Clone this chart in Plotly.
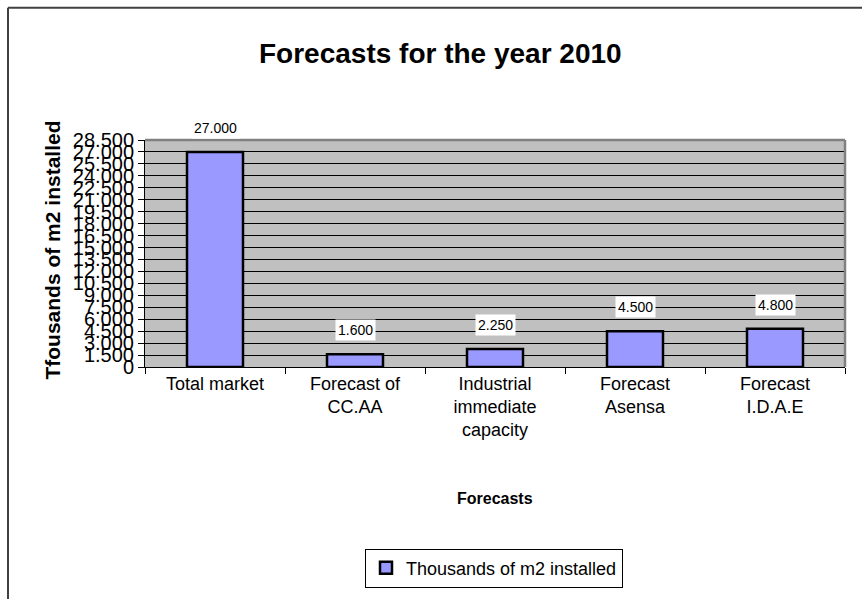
import plotly.graph_objects as go

categories = ["Total market", "Forecast of<br>CC.AA", "Industrial<br>immediate<br>capacity",
              "Forecast<br>Asensa", "Forecast<br>I.D.A.E"]
values = [27000, 1600, 2250, 4500, 4800]
series_name = "Thousands of m2 installed"
title_text = "Forecasts for the year 2010"
x_title = "Forecasts"
y_title = "Tfousands of m2 installed"

FONT = "Liberation Sans, Arial, sans-serif"
W, H = 862, 599
L, R, T, B = 145, 17, 140, 229
pw, ph = W - L - R, H - T - B

def px_x(p):
    return (p - L) / pw

def px_y(p):
    return (H - B - p) / ph

fig = go.Figure()
fig.add_trace(go.Bar(
    x=categories, y=values, name=series_name, width=0.4,
    marker=dict(color="#9999FF", line=dict(color="black", width=2.5)),
    showlegend=True,
))

annotations = []
for c, v in zip(categories, values):
    annotations.append(dict(
        x=c, y=v, xref="x", yref="y", text=f"{v:,}".replace(",", "."),
        showarrow=False, yshift=24, bgcolor="white",
        font=dict(family=FONT, size=14, color="black"), borderpad=2,
    ))

annotations += [
    dict(x=px_x(440), y=px_y(52), xref="paper", yref="paper", text=f"<b>{title_text}</b>",
         showarrow=False, font=dict(family=FONT, size=28, color="black"),
         xanchor="center", yanchor="middle"),
    dict(x=px_x(495), y=px_y(503), xref="paper", yref="paper", text=f"<b>{x_title}</b>",
         showarrow=False, font=dict(family=FONT, size=16, color="black"),
         xanchor="center", yanchor="middle"),
    dict(x=px_x(53), y=px_y(252), xref="paper", yref="paper", text=f"<b>{y_title}</b>",
         showarrow=False, textangle=-90, font=dict(family=FONT, size=21, color="black"),
         xanchor="center", yanchor="middle"),
]

shapes = [
    # outer chart frame (top and left visible)
    dict(type="line", xref="paper", yref="paper", x0=px_x(8), x1=px_x(870), y0=px_y(6), y1=px_y(6),
         line=dict(color="#404040", width=2)),
    dict(type="line", xref="paper", yref="paper", x0=px_x(8), x1=px_x(8), y0=px_y(6), y1=px_y(610),
         line=dict(color="#404040", width=2)),
    # plot area gray top and right borders
    dict(type="line", xref="paper", yref="paper", x0=0, x1=1, y0=1, y1=1,
         line=dict(color="#808080", width=2.5)),
    dict(type="line", xref="paper", yref="paper", x0=1, x1=1, y0=0, y1=1,
         line=dict(color="#808080", width=2.5)),
]

fig.update_layout(
    width=W, height=H, margin=dict(l=L, r=R, t=T, b=B),
    paper_bgcolor="white", plot_bgcolor="#C0C0C0",
    font=dict(family=FONT, color="black"),
    separators=",.",
    annotations=annotations, shapes=shapes,
    bargap=0.6,
    legend=dict(orientation="h", x=px_x(494), y=px_y(554), xanchor="center", yanchor="top",
                bordercolor="black", borderwidth=1, bgcolor="white",
                font=dict(family=FONT, size=18, color="black"),
                itemwidth=30),
)
fig.update_xaxes(
    type="category", tickson="boundaries", ticks="outside", ticklen=6, tickcolor="black",
    showline=True, linecolor="black", linewidth=1, showgrid=False,
    tickfont=dict(family=FONT, size=18, color="black"), fixedrange=True,
)
fig.update_yaxes(
    range=[0, 28500], tickmode="linear", tick0=0, dtick=1500, tickformat=",d",
    ticks="outside", ticklen=6, tickcolor="black",
    showline=True, linecolor="black", linewidth=1,
    showgrid=True, gridcolor="black", gridwidth=1, zeroline=False,
    tickfont=dict(family=FONT, size=20, color="black"), fixedrange=True,
)

fig.write_html("out.html")
